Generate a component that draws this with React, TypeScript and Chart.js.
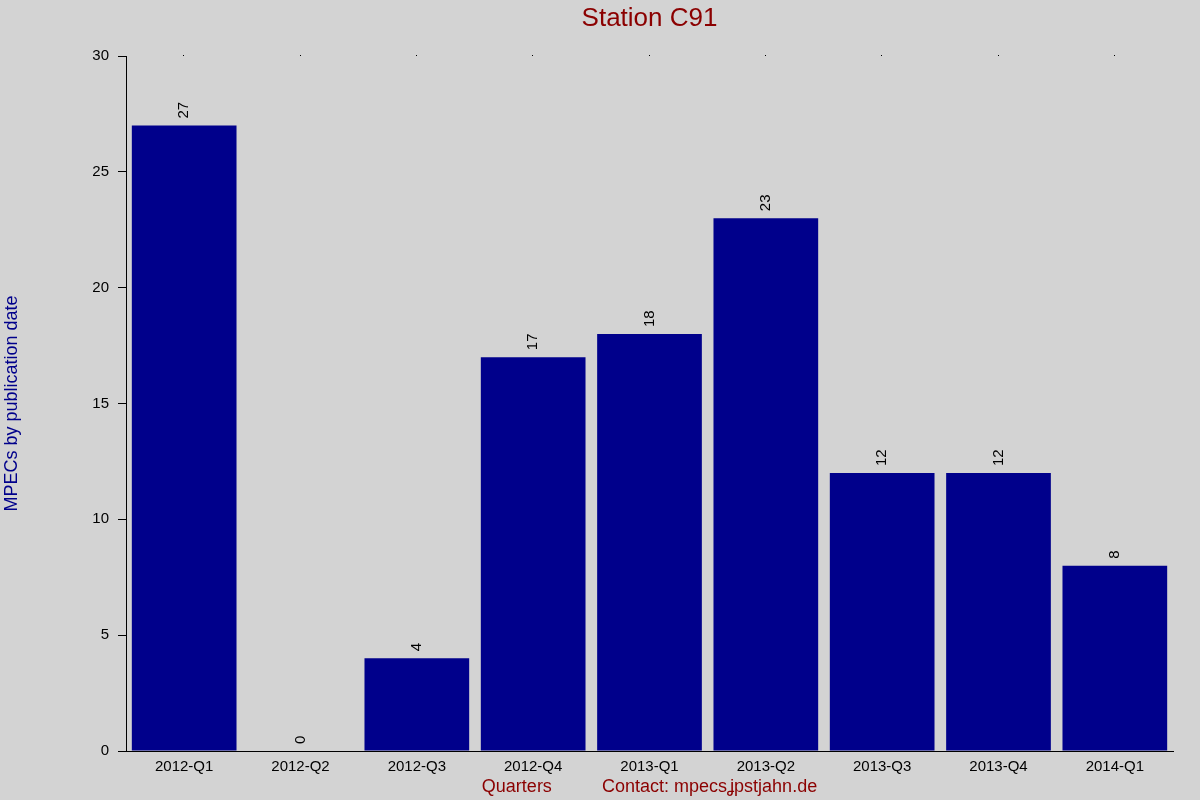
import { Chart } from "chart.js/auto"
import { useEffect, useRef } from "react"

const quarters = ["2012-Q1", "2012-Q2", "2012-Q3", "2012-Q4", "2013-Q1", "2013-Q2", "2013-Q3", "2013-Q4", "2014-Q1"]
const mpecs = [27, 0, 4, 17, 18, 23, 12, 12, 8]
const yTicks = [0, 5, 10, 15, 20, 25, 30]
const chartTitle = "Station C91"

const FONT = "'Liberation Sans', Arial, sans-serif"

// title over the plot centre, rotated value labels above the bars, little dots on the top edge
const barLabels = {
    id: "barLabels",
    afterDatasetsDraw(chart: any) {
        const ctx = chart.ctx
        const area = chart.chartArea
        ctx.save()
        ctx.fillStyle = "#8b0000"
        ctx.font = `26px ${FONT}`
        ctx.textAlign = "center"
        ctx.textBaseline = "middle"
        ctx.fillText(chartTitle, (area.left + area.right) / 2, 19)

        const meta = chart.getDatasetMeta(0)
        ctx.fillStyle = "#000"
        ctx.font = `15px ${FONT}`
        ctx.textAlign = "left"
        meta.data.forEach((bar: any, i: number) => {
            ctx.save()
            ctx.translate(bar.x, bar.y - 7)
            ctx.rotate(-Math.PI / 2)
            ctx.fillText(String(mpecs[i]), 0, 0)
            ctx.restore()
        })
        const xs = chart.scales.x
        quarters.forEach((_, i) => {
            ctx.fillRect(Math.round(xs.getPixelForValue(i)) - 1, area.top - 1, 1, 1)
        })
        ctx.restore()
    },
}

const StationChart = () => {
    const canvasRef = useRef<HTMLCanvasElement | null>(null)

    useEffect(() => {
        if (!canvasRef.current) return
        const myChart = new Chart(canvasRef.current, {
            type: "bar",
            data: {
                labels: quarters,
                datasets: [
                    {
                        data: mpecs,
                        backgroundColor: "#00008b",
                        barPercentage: 0.9,
                        categoryPercentage: 1,
                    },
                ],
            },
            options: {
                animation: false,
                responsive: true,
                maintainAspectRatio: false,
                layout: { padding: { left: 0, right: 27, top: 56, bottom: 0 } },
                plugins: {
                    legend: { display: false },
                    tooltip: { enabled: false },
                    title: { display: false },
                },
                scales: {
                    x: {
                        grid: { display: false, drawTicks: false },
                        border: { display: true, color: "#000", width: 1 },
                        ticks: { color: "#000", font: { family: FONT, size: 15 }, padding: 7, maxRotation: 0 },
                        title: {
                            display: true,
                            text: "Quarters          Contact: mpecsʝpstjahn.de",
                            color: "#8b0000",
                            font: { family: FONT, size: 18 },
                            padding: { top: 0, bottom: 2 },
                        },
                        afterFit: (scale: any) => {
                            scale.height = 49
                        },
                    },
                    y: {
                        min: 0,
                        max: 30,
                        afterBuildTicks: (scale: any) => {
                            scale.ticks = yTicks.map((v) => ({ value: v }))
                        },
                        grid: {
                            display: true,
                            drawOnChartArea: false,
                            drawTicks: true,
                            tickLength: 8,
                            color: "#000",
                        },
                        border: { display: true, color: "#000", width: 1 },
                        ticks: { color: "#000", font: { family: FONT, size: 15 }, padding: 9 },
                        title: {
                            display: true,
                            text: "MPECs by publication date",
                            color: "#00008b",
                            font: { family: FONT, size: 18 },
                            padding: { top: 1, bottom: 0 },
                        },
                        afterFit: (scale: any) => {
                            scale.width = 126
                        },
                    },
                },
            },
            plugins: [barLabels],
        })
        return () => {
            myChart.destroy()
        }
    }, [])

    return (
        <div style={{ position: "fixed", left: 0, top: 0, width: 1200, height: 800, background: "#d3d3d3" }}>
            <canvas ref={canvasRef}></canvas>
        </div>
    )
}

export default function App() {
    return <StationChart />
}
